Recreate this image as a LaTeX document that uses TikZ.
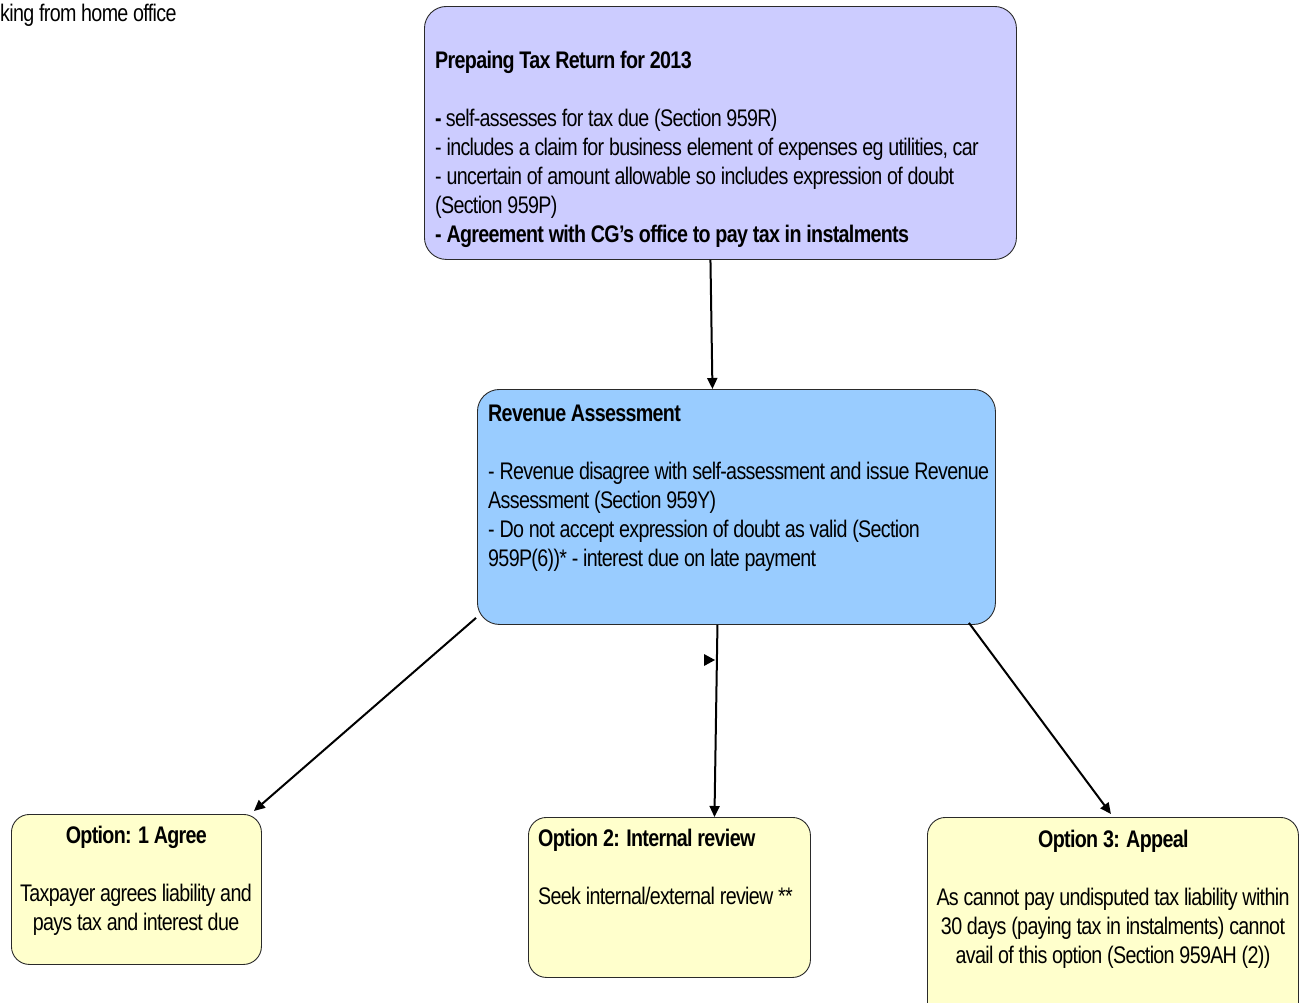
\documentclass[tikz,border=0pt]{standalone}
\usepackage{fontspec}
\setmainfont{Liberation Sans}[FakeStretch=0.82, LetterSpace=-2.8]
\usetikzlibrary{arrows.meta,calc}
\definecolor{topfill}{HTML}{CCCCFF}
\definecolor{revfill}{HTML}{99CCFF}
\definecolor{optfill}{HTML}{FFFFCC}
\definecolor{edge}{HTML}{2A2A2A}
\begin{document}
\begin{tikzpicture}[x=1pt,y=-1pt,
  box/.style={draw=edge, line width=0.9pt, rounded corners=22pt, anchor=north west, inner sep=0pt},
  txt/.style={inner sep=0pt, font=\fontsize{24}{29}\selectfont},
  arr/.style={line width=2pt, -{Triangle[length=11pt,width=10pt]}}]
\clip (0,0) rectangle (1306,1002);
\node[box, fill=topfill, minimum width=592pt, minimum height=253pt] (top) at (424,6) {};
\node[box, fill=revfill, minimum width=518pt, minimum height=235pt] (rev) at (477,389) {};
\node[box, fill=optfill, rounded corners=18pt, minimum width=250pt, minimum height=150pt] (opt1) at (11,814) {};
\node[box, fill=optfill, rounded corners=18pt, minimum width=282pt, minimum height=160pt] (opt2) at (528,817) {};
\node[box, fill=optfill, rounded corners=18pt, minimum width=371pt, minimum height=210pt] (opt3) at (927,817) {};

\node[txt, anchor=north west] (note) at (0,1) {\strut king from home office};
\node[txt, anchor=north west, align=left] (toptxt) at (435,48) {\strut\textbf{Prepaing Tax Return for 2013}\\[29pt]
\textbf{-} self-assesses for tax due (Section 959R)\\
- includes a claim for business element of expenses eg utilities, car\\
- uncertain of amount allowable so includes expression of doubt\\
(Section 959P)\\
\textbf{- Agreement with CG's office to pay tax in instalments}};
\node[txt, anchor=north west, align=left] (revtxt) at (488,401) {\strut\textbf{Revenue Assessment}\\[29pt]
- Revenue disagree with self-assessment and issue Revenue\\
Assessment (Section 959Y)\\
- Do not accept expression of doubt as valid (Section\\
959P(6))* - interest due on late payment};
\node[txt, anchor=north, align=center] (opt1txt) at (136,823) {\strut\textbf{Option: 1 Agree}\\[29pt]
Taxpayer agrees liability and\\
pays tax and interest due};
\node[txt, anchor=north west, align=left] (opt2txt) at (538,826) {\strut\textbf{Option 2: Internal review}\\[29pt]
Seek internal/external review **};
\node[txt, anchor=north, align=center] (opt3txt) at (1113,827) {\strut\textbf{Option 3: Appeal}\\[29pt]
As cannot pay undisputed tax liability within\\
30 days (paying tax in instalments) cannot\\
avail of this option (Section 959AH (2))};

\draw[arr] ($(top.south)+(-10,0)$) -- ($(rev.north)+(-24,0)$);
\draw[arr] ($(rev.south west)+(-1,-7)$) -- ($(opt1.north east)+(-8,-3)$);
\draw[arr] ($(rev.south)+(-19,0)$) -- ($(opt2.north)+(45,0)$);
\draw[arr] ($(rev.south east)+(-27,-2)$) -- ($(opt3.north)+(-2,-3)$);
\fill (704,654) -- (715,660) -- (704,666) -- cycle;
\end{tikzpicture}
\end{document}
